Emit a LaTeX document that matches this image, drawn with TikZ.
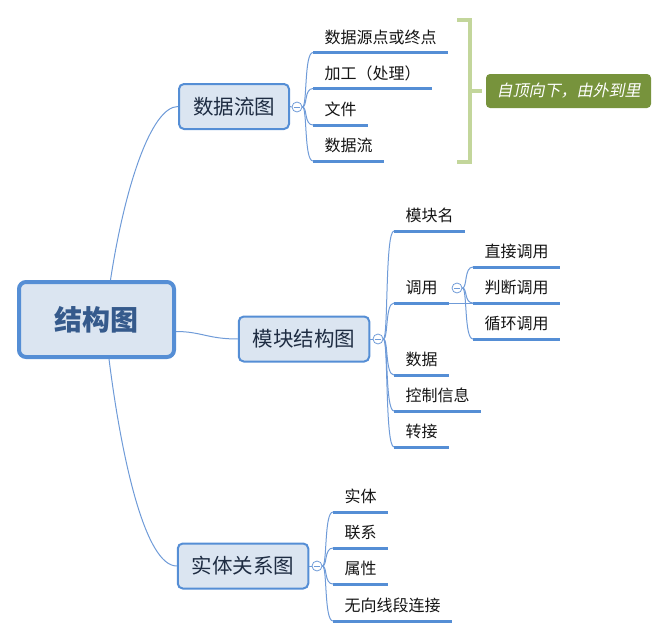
\documentclass[tikz,border=0pt]{standalone}
\usepackage{fontspec}
\setmainfont{Noto Sans CJK SC}
\newfontfamily\cjkit[FakeSlant=0.2]{Noto Sans CJK SC}
\usetikzlibrary{calc}
\definecolor{nodefill}{HTML}{DBE5F1}
\definecolor{nodeborder}{HTML}{558ED5}
\definecolor{thinline}{HTML}{6F9BD8}
\definecolor{roottext}{HTML}{355A8C}
\definecolor{branchtext}{HTML}{1E2C42}
\definecolor{leaftext}{HTML}{141414}
\definecolor{bracketgreen}{HTML}{C3D69B}
\definecolor{calloutgreen}{HTML}{77933C}
\tikzset{
  rootbox/.style={draw=nodeborder, line width=4pt, fill=nodefill, rounded corners=7pt,
    minimum width=155pt, minimum height=75pt, inner sep=0pt,
    font=\fontsize{28}{32}\selectfont\bfseries, text=roottext},
  branchbox/.style={draw=nodeborder, line width=2pt, fill=nodefill, rounded corners=5pt,
    minimum height=45pt, inner xsep=14pt, inner ysep=0pt,
    font=\fontsize{20.5}{24}\selectfont, text=branchtext},
  leaf/.style={anchor=south west, inner xsep=11.5pt, inner ysep=6pt, text height=13pt,
    text depth=3pt, font=\fontsize{16}{18}\selectfont, text=leaftext},
  uline/.style={draw=nodeborder, line width=3pt},
  conn/.style={draw=thinline, line width=1pt},
  collapse/.style={circle, draw=thinline, fill=white, line width=0.8pt, minimum size=10pt,
    inner sep=0pt, path picture={\draw[thinline, line width=0.8pt]
      ([xshift=-2.6pt]path picture bounding box.center) -- ([xshift=2.6pt]path picture bounding box.center);}},
  callout/.style={fill=calloutgreen, rounded corners=4pt, minimum width=165pt, minimum height=34pt,
    inner sep=0pt, text=white, font=\fontsize{16}{18}\selectfont\cjkit},
  bracket/.style={draw=bracketgreen, line width=4pt, line join=miter}
}
\begin{document}
\begin{tikzpicture}[x=1pt,y=-1pt]
\useasboundingbox (0,0) rectangle (667,637);
% main nodes
\node[rootbox] (root) at (96.5,319.5) {结构图};
\node[branchbox] (n1) at (234,106.5) {数据流图};
\node[branchbox] (n2) at (304,339) {模块结构图};
\node[branchbox] (n3) at (243,566) {实体关系图};
% root connectors
\draw[conn] ([xshift=14pt]root.north) .. controls +(14,-92) and +(-27,0) .. (n1.west);
\draw[conn] ([yshift=-12pt]root.east) .. controls +(25,0) and +(-30,0) .. (n2.west);
\draw[conn] ([xshift=12.5pt]root.south) .. controls +(13,103) and +(-31,0) .. (n3.west);
% collapse buttons
\node[collapse] (k1) at (297,107) {};
\node[collapse] (k2) at (378,339) {};
\node[collapse] (k3) at (317,566) {};
\node[collapse] (k4) at (457,288) {};
\draw[conn] (n1.east) -- (k1.west);
\draw[conn] (n2.east) -- (k2.west);
\draw[conn] (n3.east) -- (k3.west);
% leaves of 数据流图
\node[leaf] (a1) at (313,52.5) {数据源点或终点};
\node[leaf] (a2) at (313,88.5) {加工（处理）};
\node[leaf] (a3) at (313,125) {文件};
\node[leaf] (a4) at (313,161) {数据流};
% leaves of 模块结构图
\node[leaf] (b1) at (394,231) {模块名};
\node[leaf] (b2) at (394,303) {调用};
\node[leaf] (b3) at (394,375) {数据};
\node[leaf] (b4) at (394,411) {控制信息};
\node[leaf] (b5) at (394,447) {转接};
% leaves of 调用
\node[leaf] (c1) at (473,267) {直接调用};
\node[leaf] (c2) at (473,303) {判断调用};
\node[leaf] (c3) at (473,339) {循环调用};
% leaves of 实体关系图
\node[leaf] (d1) at (333,512) {实体};
\node[leaf] (d2) at (333,548) {联系};
\node[leaf] (d3) at (333,584) {属性};
\node[leaf] (d4) at (333,621) {无向线段连接};
% curves to leaves
\foreach \k/\leafname in {k1/a1,k1/a2,k1/a3,k1/a4,k2/b1,k2/b2,k2/b3,k2/b4,k2/b5,k4/c1,k4/c2,k4/c3,k3/d1,k3/d2,k3/d3,k3/d4}
  \draw[conn] (\k.east) .. controls +(5,0) and +(-9,0) .. (\leafname.south west);
\draw[conn] (b2.south east) -- (c2.south west);
% underlines
\foreach \leafname in {a1,a2,a3,a4,b1,b2,b3,b4,b5,c1,c2,c3,d1,d2,d3,d4}
  \draw[uline] (\leafname.south west) -- (\leafname.south east);
% summary bracket and callout
\node[callout] (note) at (568.5,91) {自顶向下，由外到里};
\coordinate (bt) at (457,20);
\coordinate (bb) at (457,162);
\draw[bracket] (bt) -- (470,20) -- (470,162) -- (bb);
\draw[bracket] (470,91) -- ([xshift=-4pt]note.west);
\end{tikzpicture}
\end{document}
